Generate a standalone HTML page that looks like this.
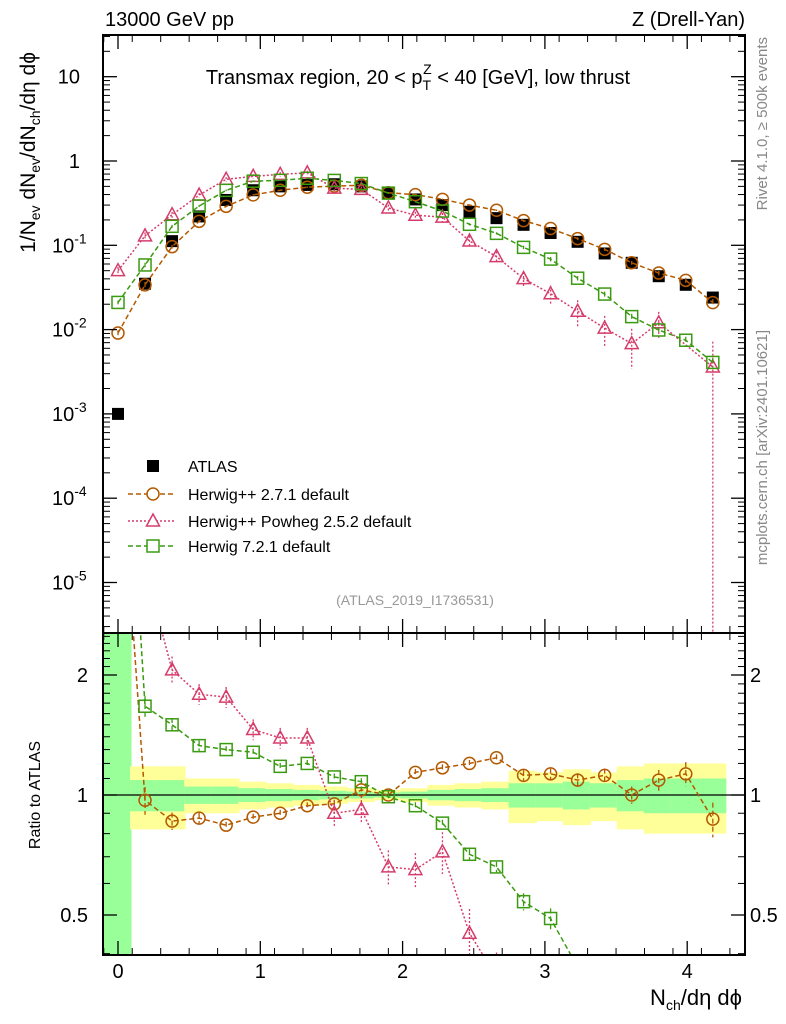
<!DOCTYPE html>
<html><head><meta charset="utf-8"><style>
html,body{margin:0;background:#fff;width:786px;height:1024px;overflow:hidden;}
svg{display:block;font-family:"Liberation Sans",sans-serif;}
</style></head><body>
<svg id="c" width="786" height="1024" xmlns="http://www.w3.org/2000/svg"></svg>
<script>
const xs=[0,0.19,0.38,0.57,0.76,0.95,1.14,1.33,1.52,1.71,1.9,2.09,2.28,2.47,2.66,2.85,3.04,3.23,3.42,3.61,3.8,3.99,4.18];
const atlas=[0.001,0.035,0.112,0.22,0.345,0.45,0.5,0.52,0.53,0.5,0.42,0.35,0.3,0.25,0.21,0.175,0.14,0.11,0.08,0.062,0.043,0.034,0.024];
const rHpp=[9.1,0.97,0.86,0.875,0.84,0.88,0.9,0.94,0.95,1.03,1.0,1.14,1.17,1.2,1.24,1.12,1.13,1.09,1.12,1.0,1.09,1.13,0.87];
const rPow=[50,3.7,2.06,1.79,1.76,1.46,1.39,1.39,0.9,0.92,0.66,0.65,0.72,0.45,0.35,0.23,0.19,0.15,0.13,0.11,0.28,null,0.15];
const rH7=[21,1.67,1.5,1.33,1.3,1.28,1.18,1.2,1.11,1.08,0.99,0.94,0.85,0.71,0.66,0.54,0.49,0.37,0.33,0.23,0.23,0.22,0.17];
const eHpp=[0.08,0.08,0.05,0.03,0.02,0.02,0.02,0.02,0.02,0.02,0.02,0.02,0.02,0.02,0.02,0.03,0.03,0.04,0.04,0.05,0.06,0.07,0.1];
const ePow=[0.1,0.1,0.08,0.06,0.06,0.06,0.06,0.06,0.08,0.08,0.1,0.1,0.12,0.15,0.15,0.2,0.25,0.35,0.4,0.5,0.35,0,1];
const eH7=[0.05,0.06,0.04,0.03,0.02,0.02,0.02,0.02,0.02,0.02,0.02,0.02,0.02,0.03,0.03,0.05,0.06,0.06,0.07,0.08,0.09,0.1,0.12];
const yelErr=[0,0.18,0.18,0.1,0.1,0.08,0.07,0.06,0.05,0.04,0.03,0.04,0.06,0.07,0.08,0.15,0.14,0.16,0.14,0.18,0.2,0.2,0.2];
const grnErr=[1,0.09,0.09,0.05,0.05,0.04,0.035,0.03,0.025,0.02,0.015,0.02,0.03,0.035,0.04,0.07,0.07,0.08,0.07,0.09,0.1,0.1,0.1];
const mainTicks=[1,0,-1,-2,-3,-4,-5];
const ratioTicks=[2,1,0.5];
const xTicks=[0,1,2,3,4];

const NS="http://www.w3.org/2000/svg";
const svg=document.getElementById('c');
function el(t,a,p){const e=document.createElementNS(NS,t);for(const k in a)e.setAttribute(k,a[k]);(p||svg).appendChild(e);return e;}
const L=103,R=745,T=35,MB=633,RB=955;
const X=v=>118+v*142.3;
const YM=v=>161-84.3*Math.log10(v);
const YR=v=>795-120*Math.log2(v);
const hw=0.095;

const defs=el('defs',{});
const c1=el('clipPath',{id:'cm'},defs);el('rect',{x:L,y:T,width:R-L,height:MB-T},c1);
const c2=el('clipPath',{id:'cr'},defs);el('rect',{x:L,y:MB,width:R-L,height:RB-MB},c2);
const gM=el('g',{'clip-path':'url(#cm)'});
const gR=el('g',{'clip-path':'url(#cr)'});

xs.forEach((x,i)=>{
  const x0=X(x-hw-0.01),w=X(x+hw)-x0;
  if(yelErr[i]>0){const b=el('rect',{x:x0,y:YR(1+yelErr[i]),width:w,height:YR(1-yelErr[i])-YR(1+yelErr[i]),fill:'#ffff99'},gR);
  }
  const g=grnErr[i];const top=g>=1?YR(100):YR(1+g),bot=g>=1?YR(0.01):YR(1-g);
  const b2=el('rect',{x:x0,y:top,width:w,height:bot-top,fill:'#99ff99'},gR);
  
});
el('line',{x1:L,x2:R,y1:YR(1),y2:YR(1),stroke:'#000','stroke-width':1.3},gR);

function series(r,err,color,dash,marker,name){
  const mp=[],rp=[];
  xs.forEach((x,i)=>{if(r[i]==null)return;const v=r[i]*atlas[i];mp.push([X(x),YM(v),v,err[i]]);rp.push([X(x),YR(r[i]),r[i],err[i]]);});
  [[gM,mp,YM],[gR,rp,YR]].forEach(([g,pts,Y])=>{
    const pl=el('polyline',{points:pts.map(p=>p[0]+','+p[1]).join(' '),fill:'none',stroke:color,'stroke-width':1.5,'stroke-dasharray':dash},g);
    
    pts.forEach(p=>{
      const lo=Math.max(p[2]*(1-p[3]),1e-9),hi=p[2]*(1+p[3]);
      el('line',{x1:p[0],x2:p[0],y1:Y(hi),y2:Y(lo),stroke:color,'stroke-width':1.3,'stroke-dasharray':dash},g);
      let m;
      if(marker=='c')m=el('circle',{cx:p[0],cy:p[1],r:6,fill:'none',stroke:color,'stroke-width':1.5},g);
      else if(marker=='t')m=el('polygon',{points:`${p[0]},${p[1]-7} ${p[0]-6.5},${p[1]+5} ${p[0]+6.5},${p[1]+5}`,fill:'none',stroke:color,'stroke-width':1.5},g);
      else m=el('rect',{x:p[0]-6,y:p[1]-6,width:12,height:12,fill:'none',stroke:color,'stroke-width':1.5},g);
      
    });
  });
}
xs.forEach((x,i)=>{const s=el('rect',{x:X(x)-6,y:YM(atlas[i])-6,width:12,height:12,fill:'#000'},gM);
});
series(rHpp,eHpp,'#b35900','5,3','c','herwigpp-271');
series(rPow,ePow,'#d63c6b','2,2','t','herwigpp-powheg');
series(rH7,eH7,'#3a9a10','5,3','s','herwig-721');

el('rect',{x:L,y:T,width:R-L,height:MB-T,fill:'none',stroke:'#000','stroke-width':2});
el('rect',{x:L,y:MB,width:R-L,height:RB-MB,fill:'none',stroke:'#000','stroke-width':2});

function txt(s,a,name){const t=el('text',a);t.innerHTML=s;return t;}
mainTicks.forEach(e=>{const y=YM(Math.pow(10,e));
  el('line',{x1:L,x2:L+14,y1:y,y2:y,stroke:'#000','stroke-width':1.3});el('line',{x1:R-14,x2:R,y1:y,y2:y,stroke:'#000','stroke-width':1.3});
  for(let k=2;k<10;k++){const yy=YM(k*Math.pow(10,e-1));if(yy>T&&yy<MB){el('line',{x1:L,x2:L+7,y1:yy,y2:yy,stroke:'#000'});el('line',{x1:R-7,x2:R,y1:yy,y2:yy,stroke:'#000'});}}
  const lab=e==1?'10':e==0?'1':'10<tspan font-size="14" dy="-9">'+e+'</tspan>';
  txt(lab,{x:e>=0?80:52,y:y+7,'font-size':20,'text-anchor':e>=0?'end':'start'},'y-tick-label');
});
for(let k=2;k<4;k++){const yy=YM(k*10);el('line',{x1:L,x2:L+7,y1:yy,y2:yy,stroke:'#000'});el('line',{x1:R-7,x2:R,y1:yy,y2:yy,stroke:'#000'});}
xTicks.forEach(v=>{const x=X(v);
  el('line',{x1:x,x2:x,y1:RB,y2:RB-14,stroke:'#000','stroke-width':1.3});
  el('line',{x1:x,x2:x,y1:MB,y2:MB-14,stroke:'#000','stroke-width':1.3});
  el('line',{x1:x,x2:x,y1:T,y2:T+14,stroke:'#000','stroke-width':1.3});
  el('line',{x1:x,x2:x,y1:MB,y2:MB+14,stroke:'#000','stroke-width':1.3});
  txt(String(v),{x:x,y:RB+23,'font-size':20,'text-anchor':'middle'},'x-tick-label');
});
for(let v=-0.1;v<4.4;v+=0.2){const x=X(v);if(x<L||x>R)continue;
  [[MB,-7],[RB,-7],[T,7],[MB,7]].forEach(([y,d])=>el('line',{x1:x,x2:x,y1:y,y2:y+d,stroke:'#000'}));}
ratioTicks.forEach(v=>{const y=YR(v);
  el('line',{x1:L,x2:L+14,y1:y,y2:y,stroke:'#000','stroke-width':1.3});el('line',{x1:R-14,x2:R,y1:y,y2:y,stroke:'#000','stroke-width':1.3});
  txt(String(v),{x:88,y:y+7,'font-size':20,'text-anchor':'end'},'ratio-tick-label');
  txt(String(v),{x:750,y:y+7,'font-size':20},'ratio-tick-label-right');
});
[0.4,0.6,0.7,0.8,0.9,1.1,1.2,1.3,1.4,1.5,1.6,1.7,1.8,1.9,2.1,2.2,2.3,2.4,2.5].forEach(v=>{const y=YR(v);
  el('line',{x1:L,x2:L+7,y1:y,y2:y,stroke:'#000'});el('line',{x1:R-7,x2:R,y1:y,y2:y,stroke:'#000'});});

txt('13000 GeV pp',{x:105,y:26,'font-size':20},'beam-label');
txt('Z (Drell-Yan)',{x:745,y:26,'font-size':20,'text-anchor':'end'},'process-label');
txt('Transmax region, 20 &lt; p<tspan font-size="14" dy="6">T</tspan><tspan font-size="14" dx="-8" dy="-16">Z</tspan><tspan dy="10"> &lt; 40 [GeV], low thrust</tspan>',{x:418,y:84,'font-size':20,'text-anchor':'middle'},'plot-title');
txt('1/N<tspan font-size="14" dy="5">ev</tspan><tspan dy="-5"> dN</tspan><tspan font-size="14" dy="5">ev</tspan><tspan dy="-5">/dN</tspan><tspan font-size="14" dy="5">ch</tspan><tspan dy="-5">/dη dϕ</tspan>',{x:0,y:0,'font-size':21,'text-anchor':'end',transform:'translate(35,52) rotate(-90)'},'y-axis-title');
txt('Ratio to ATLAS',{x:0,y:0,'font-size':16,'text-anchor':'middle',transform:'translate(40,795) rotate(-90)'},'ratio-axis-title');
txt('N<tspan font-size="14" dy="5">ch</tspan><tspan dy="-5">/dη dϕ</tspan>',{x:742,y:1005,'font-size':22,'text-anchor':'end'},'x-axis-title');
txt('Rivet 4.1.0, ≥ 500k events',{x:0,y:0,'font-size':15,fill:'#888','text-anchor':'end',transform:'translate(767,37) rotate(-90)'},'rivet-label');
txt('mcplots.cern.ch [arXiv:2401.10621]',{x:0,y:0,'font-size':15,fill:'#888','text-anchor':'end',transform:'translate(767,330) rotate(-90)'},'mcplots-label');
txt('(ATLAS_2019_I1736531)',{x:415,y:605,'font-size':14,fill:'#999','text-anchor':'middle'},'analysis-id');

const lg=el('g',{});
el('rect',{x:147,y:460,width:12,height:12,fill:'#000'},lg);
txt('ATLAS',{x:188,y:472,'font-size':16},'legend-atlas');
const ent=[['Herwig++ 2.7.1 default','#b35900','5,3','c',494],['Herwig++ Powheg 2.5.2 default','#d63c6b','2,2','t',521],['Herwig 7.2.1 default','#3a9a10','5,3','s',546]];
ent.forEach(([s,c,d,m,y])=>{
  el('line',{x1:128,x2:176,y1:y,y2:y,stroke:c,'stroke-width':1.5,'stroke-dasharray':d},lg);
  if(m=='c')el('circle',{cx:153,cy:y,r:6,fill:'#fff',stroke:c,'stroke-width':1.5},lg);
  else if(m=='t')el('polygon',{points:`153,${y-7} 146.5,${y+5} 159.5,${y+5}`,fill:'#fff',stroke:c,'stroke-width':1.5},lg);
  else el('rect',{x:147,y:y-6,width:12,height:12,fill:'#fff',stroke:c,'stroke-width':1.5},lg);
  txt(s,{x:188,y:y+6,'font-size':16},'legend-entry');
});
</script>
</body></html>
